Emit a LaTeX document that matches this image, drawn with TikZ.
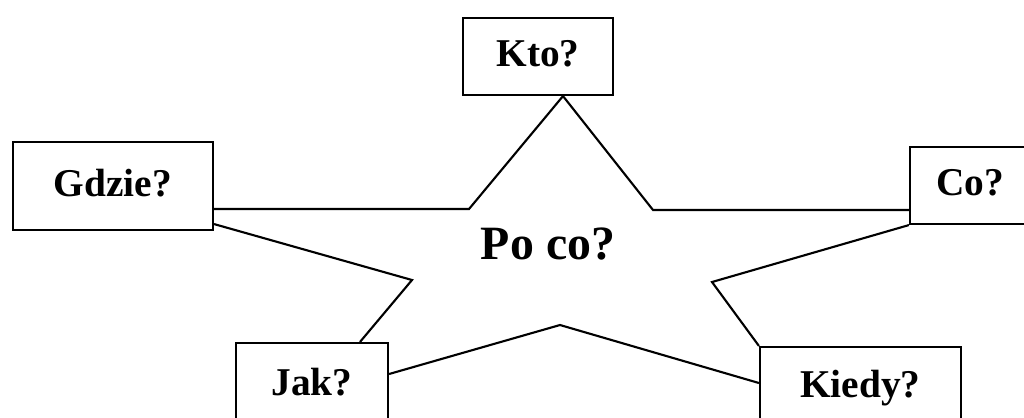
\documentclass[tikz,border=0pt]{standalone}
\usepackage{fontspec}
\setmainfont{Liberation Serif}
\usetikzlibrary{
    calc
}
\tikzset{question/.style={
    draw,
    line width=1.5pt,
    inner sep=0pt,
    font=\bfseries\fontsize{28}{30}\selectfont,
    text height=20pt,
    text depth=5.4pt
}}
\tikzset{edge/.style={line width=1.5pt, line join=miter}}

\begin{document}
\begin{tikzpicture}[
            x=0.025cm,
            y=-0.025cm,
    ]
        \useasboundingbox (0,0) rectangle (1024,417);
        \clip (0,0) rectangle (1024,417);

        \node[question, minimum width=3.75cm, minimum height=1.925cm]
            (kto) at (538,56.5)
            {Kto?};

        \node[question, minimum width=5cm, minimum height=2.2cm]
            (gdzie) at (113,186)
            {Gdzie?};

        \node[question, minimum width=3cm, minimum height=1.925cm]
            (co) at (970,185.5)
            {Co?};

        \node[question, minimum width=3.8cm, minimum height=2.1cm]
            (jak) at (312,385)
            {Jak?};

        \node[question, minimum width=5.025cm, minimum height=2cm]
            (kiedy) at (860.5,387)
            {Kiedy?};

        \node[font=\bfseries\fontsize{34}{36}\selectfont, anchor=base]
            (poco) at (548,259)
            {Po co?};

        \coordinate (kto-gdzie) at (469,209);
        \coordinate (kto-co) at (653,210);
        \coordinate (gdzie-jak) at (412,280);
        \coordinate (co-kiedy) at (712,282);
        \coordinate (jak-kiedy) at (560,325);

        \draw[edge] ($(kto.south)+(25,0)$) -- (kto-gdzie) -- (gdzie.east |- kto-gdzie);
        \draw[edge] ($(kto.south)+(25,0)$) -- (kto-co) -- (co.west |- kto-co);
        \draw[edge] ($(gdzie.south east)+(0,-7)$) -- (gdzie-jak) -- ($(jak.north)+(48,0)$);
        \draw[edge] (co.south west) -- (co-kiedy) -- (kiedy.north west);
        \draw[edge] ($(jak.east)+(0,-11)$) -- (jak-kiedy) -- ($(kiedy.west)+(0,-4)$);

    \end{tikzpicture}
\end{document}
